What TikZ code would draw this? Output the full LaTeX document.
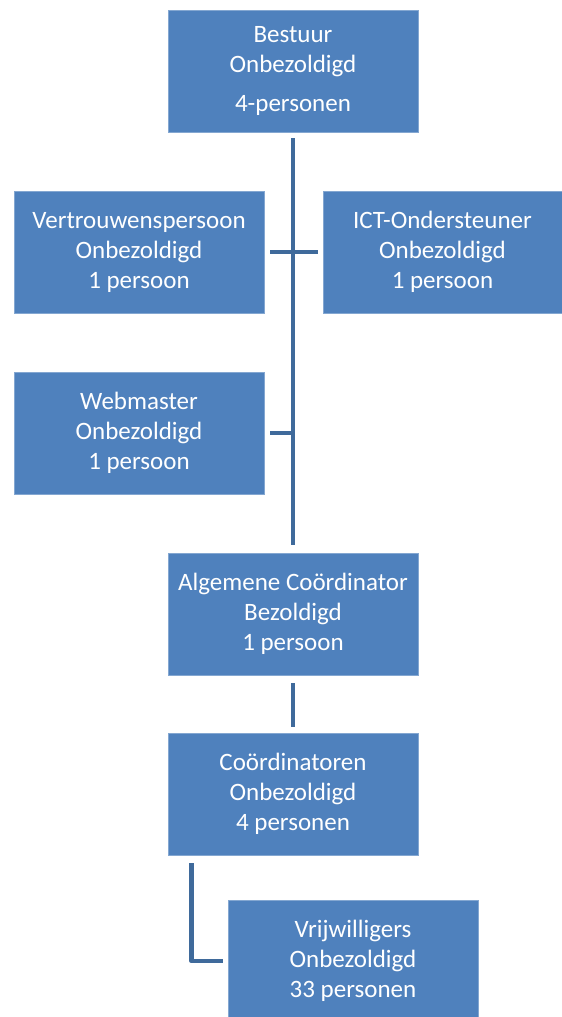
\documentclass[tikz,border=0pt]{standalone}
\usepackage{fontspec}
\setmainfont{Carlito}
\definecolor{boxblue}{HTML}{4F81BD}
\definecolor{lineblue}{HTML}{3F6A9B}
\begin{document}
\begin{tikzpicture}[x=1pt,y=-1pt,
  orgbox/.style={fill=boxblue, draw=boxblue!70!white, line width=0.6pt, text=white,
    minimum width=250pt, minimum height=122pt, align=center, inner sep=0pt,
    font=\fontsize{25}{30}\selectfont},
  conn/.style={draw=lineblue, line width=4.5pt}]
\fill[white] (0,0) rectangle (562,1017);
\useasboundingbox (0,0) rectangle (562,1017);
\node[orgbox] (bestuur) at (293,71) {Bestuur\\Onbezoldigd\\[9pt]4-personen};
\node[orgbox] (vert) at (139,252) {Vertrouwenspersoon\\Onbezoldigd\\1 persoon};
\node[orgbox, minimum width=239pt] (ict) at (442.5,252) {ICT-Ondersteuner\\Onbezoldigd\\1 persoon};
\node[orgbox] (web) at (139,433) {Webmaster\\Onbezoldigd\\1 persoon};
\node[orgbox] (alg) at (293,614) {Algemene Coördinator\\Bezoldigd\\1 persoon};
\node[orgbox] (coord) at (293,794) {Coördinatoren\\Onbezoldigd\\4 personen};
\node[orgbox] (vrij) at (353,961) {Vrijwilligers\\Onbezoldigd\\33 personen};
\coordinate (webjoin) at (293,433);
\draw[conn, shorten <=6pt, shorten >=8pt] (bestuur) -- (alg);
\draw[conn, shorten <=6pt, shorten >=5pt] (vert) -- (ict);
\draw[conn, shorten <=6pt] (web) -- (webjoin);
\draw[conn, shorten <=8pt, shorten >=6pt] (alg) -- (coord);
\draw[conn, shorten <=8pt, shorten >=5pt, line join=round] (coord.south west) ++(24,0) |- (vrij.west);
\end{tikzpicture}
\end{document}
